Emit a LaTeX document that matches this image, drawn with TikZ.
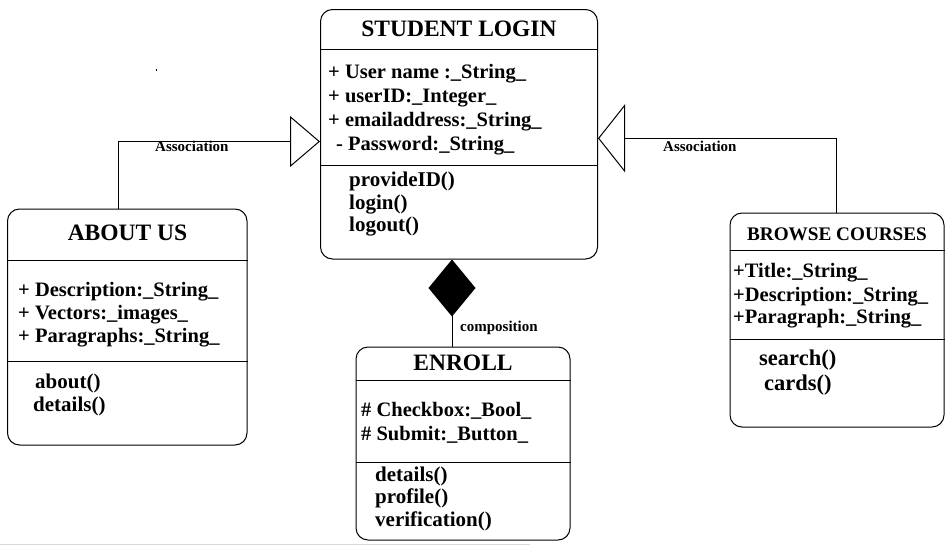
\documentclass[tikz,border=0pt]{standalone}
\usepackage{fontspec}
\setmainfont{Liberation Serif}
\usetikzlibrary{arrows.meta}
\begin{document}
\begin{tikzpicture}[x=1pt,y=-1pt,
  classbox/.style={draw, line width=1pt, rounded corners=12pt, inner sep=0pt},
  sepline/.style={line width=1pt},
  conn/.style={line width=1pt},
  titletext/.style={font=\fontsize{23.5}{23.5}\selectfont\bfseries, anchor=base, inner sep=0pt},
  smalltitle/.style={font=\fontsize{19.2}{19.2}\selectfont\bfseries, anchor=base, inner sep=0pt},
  attrtext/.style={font=\fontsize{20.5}{20.5}\selectfont\bfseries, anchor=base west, inner sep=0pt},
  methtext/.style={font=\fontsize{21}{21}\selectfont\bfseries, anchor=base west, inner sep=0pt},
  bigmeth/.style={font=\fontsize{22.5}{22.5}\selectfont\bfseries, anchor=base west, inner sep=0pt},
  labeltext/.style={font=\fontsize{15}{15}\selectfont\bfseries, anchor=base west, inner sep=0pt}
]
\useasboundingbox (0,0) rectangle (952,546);

% class boxes
\node[classbox, minimum width=277pt, minimum height=249.5pt] (sl) at (459,134.25) {};
\node[classbox, minimum width=239.5pt, minimum height=236pt] (au) at (127.25,327) {};
\node[classbox, minimum width=214pt, minimum height=214pt] (bc) at (837,320) {};
\node[classbox, minimum width=214pt, minimum height=193pt] (en) at (463,443.5) {};

% compartment lines
\draw[sepline] (sl.west |- 0,49) -- (sl.east |- 0,49);
\draw[sepline] (sl.west |- 0,165) -- (sl.east |- 0,165);
\draw[sepline] (au.west |- 0,260) -- (au.east |- 0,260);
\draw[sepline] (au.west |- 0,361) -- (au.east |- 0,361);
\draw[sepline] (bc.west |- 0,250) -- (bc.east |- 0,250);
\draw[sepline] (bc.west |- 0,339) -- (bc.east |- 0,339);
\draw[sepline] (en.west |- 0,380) -- (en.east |- 0,380);
\draw[sepline] (en.west |- 0,462) -- (en.east |- 0,462);

% STUDENT LOGIN
\node[titletext] (slt) at (459,36) {STUDENT LOGIN};
\node[attrtext] (sla1) at (328,78.7) {+ User name :\_String\_};
\node[attrtext] (sla2) at (328,102.5) {+ userID:\_Integer\_};
\node[attrtext] (sla3) at (328,126.5) {+ emailaddress:\_String\_};
\node[attrtext] (sla4) at (336,150.5) {- Password:\_String\_};
\node[methtext] (slm1) at (349,186.5) {provideID()};
\node[methtext] (slm2) at (349,209) {login()};
\node[methtext] (slm3) at (349,231.5) {logout()};

% ABOUT US
\node[titletext] (aut) at (127.5,240) {ABOUT US};
\node[attrtext] (aua1) at (18,296.5) {+ Description:\_String\_};
\node[attrtext] (aua2) at (18,319.5) {+ Vectors:\_images\_};
\node[attrtext] (aua3) at (18,342.5) {+ Paragraphs:\_String\_};
\node[methtext] (aum1) at (35,388) {about()};
\node[methtext] (aum2) at (33,411.5) {details()};

% BROWSE COURSES
\node[smalltitle] (bct) at (837,240) {BROWSE COURSES};
\node[attrtext] (bca1) at (733,277.5) {+Title:\_String\_};
\node[attrtext] (bca2) at (733,301) {+Description:\_String\_};
\node[attrtext] (bca3) at (733,323.5) {+Paragraph:\_String\_};
\node[bigmeth] (bcm1) at (759,365.5) {search()};
\node[bigmeth] (bcm2) at (764,390) {cards()};

% ENROLL
\node[titletext] (ent) at (463,370) {ENROLL};
\node[attrtext] (ena1) at (361,416.5) {\# Checkbox:\_Bool\_};
\node[attrtext] (ena2) at (361,440) {\# Submit:\_Button\_};
\node[methtext] (enm1) at (375,481) {details()};
\node[methtext] (enm2) at (375,503.5) {profile()};
\node[methtext] (enm3) at (375,526.5) {verification()};

% connectors
\coordinate (la) at (118,141.5);
\coordinate (ra) at (836,138.3);
\coordinate (dx) at (452,0);
\draw[conn, -{Triangle[open, length=30pt, width=51pt]}] (au.north -| la) |- (sl.west |- la);
\draw[conn, -{Triangle[open, length=27pt, width=68pt]}] (bc.north -| ra) |- (sl.east |- ra);
\draw[conn, -{Diamond[length=57pt, width=47pt]}] (en.north -| dx) -- (sl.south -| dx);

% connector labels
\node[labeltext] (lal) at (155,151.7) {Association};
\node[labeltext] (ral) at (663,151.7) {Association};
\node[labeltext] (cl) at (460,331.7) {composition};

% specks of the scan
\fill (155.5,69) rectangle (156.5,71);
\draw[black!15, line width=1.5pt] (0,544.5) -- (530,544.5);
\end{tikzpicture}
\end{document}
